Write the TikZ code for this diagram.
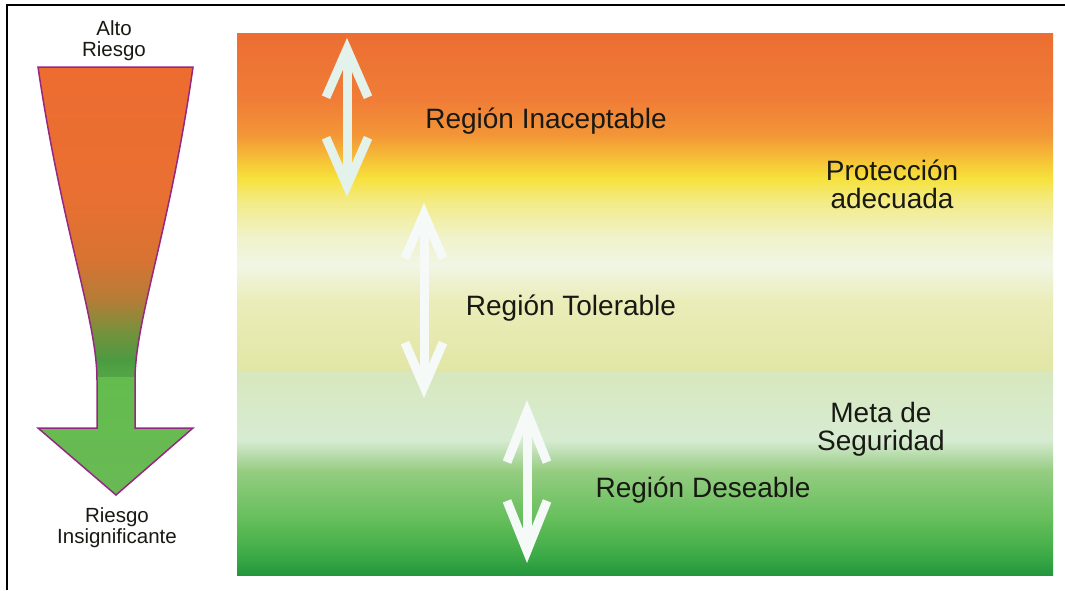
\documentclass[tikz,border=0pt]{standalone}
\usepackage{fontspec}
\setmainfont{Liberation Sans}
\usetikzlibrary{arrows.meta}

% background band colours
\definecolor{bgA}{RGB}{236,110,50}
\definecolor{bgB}{RGB}{240,125,55}
\definecolor{bgC}{RGB}{243,150,55}
\definecolor{bgD}{RGB}{246,195,55}
\definecolor{bgE}{RGB}{247,225,60}
\definecolor{bgF}{RGB}{243,235,130}
\definecolor{bgG}{RGB}{240,242,200}
\definecolor{bgH}{RGB}{240,246,228}
\definecolor{bgI}{RGB}{235,237,185}
\definecolor{bgJ}{RGB}{225,230,165}
\definecolor{bgK}{RGB}{215,232,190}
\definecolor{bgL}{RGB}{215,235,210}
\definecolor{bgM}{RGB}{150,205,130}
\definecolor{bgN}{RGB}{100,190,90}
\definecolor{bgO}{RGB}{60,170,70}
\definecolor{bgP}{RGB}{35,150,60}
% funnel colours
\definecolor{fuA}{RGB}{238,108,48}
\definecolor{fuB}{RGB}{232,112,50}
\definecolor{fuC}{RGB}{215,115,50}
\definecolor{fuD}{RGB}{180,125,55}
\definecolor{fuE}{RGB}{120,145,60}
\definecolor{fuF}{RGB}{75,155,65}
\definecolor{fuG}{RGB}{85,165,72}
\definecolor{fuH}{RGB}{100,188,78}
\definecolor{fuI}{RGB}{105,185,85}
\definecolor{funnelline}{RGB}{150,40,130}
\definecolor{arrowwhite}{RGB}{245,250,248}
\definecolor{arrowmint}{RGB}{228,242,236}
\definecolor{txt}{RGB}{25,25,20}

\newcommand\bgband[4]{\shade[top color=#3,bottom color=#4] (237,#1) rectangle (1053,{#2+0.6});}
\newcommand\fuband[4]{\shade[top color=#3,bottom color=#4] (30,#1) rectangle (200,{#2+0.6});}
\newcommand\funnelpath{(38,67) -- (193,67) .. controls (170,230) and (135,320) .. (135,380) -- (135,428) -- (193,428) -- (116,495) -- (38,428) -- (97,428) -- (97,380) .. controls (97,320) and (62,230) .. (38,67) -- cycle}

\tikzset{
  big/.style={font=\fontsize{28}{28}\selectfont, text=txt, inner sep=0pt, align=center},
  small/.style={font=\fontsize{20.5}{21}\selectfont, text=txt, inner sep=0pt, align=center},
  wharrow/.style args={#1/#2}{line width=9pt, draw=arrowwhite,
     {Straight Barb[length=#1pt,width=#2pt]}-{Straight Barb[length=#1pt,width=#2pt]}},
}

\begin{document}
\begin{tikzpicture}[x=1pt,y=-1pt]
\useasboundingbox (0,0) rectangle (1065,590);
\fill[white] (0,0) rectangle (1065,590);
% frame (top and left)
\draw[line width=2pt] (7,590) -- (7,5) -- (1065,5);

% background gradient
\bgband{33}{100}{bgA}{bgB}
\bgband{100}{135}{bgB}{bgC}
\bgband{135}{160}{bgC}{bgD}
\bgband{160}{178}{bgD}{bgE}
\bgband{178}{200}{bgE}{bgF}
\bgband{200}{235}{bgF}{bgG}
\bgband{235}{265}{bgG}{bgH}
\bgband{265}{300}{bgH}{bgI}
\shade[top color=bgI,bottom color=bgJ] (237,300) rectangle (1053,372);
\bgband{372}{440}{bgK}{bgL}
\bgband{440}{470}{bgL}{bgM}
\bgband{470}{520}{bgM}{bgN}
\bgband{520}{555}{bgN}{bgO}
\shade[top color=bgO,bottom color=bgP] (237,555) rectangle (1053,575);

% funnel arrow
\begin{scope}
  \clip \funnelpath;
  \fuband{60}{200}{fuA}{fuB}
  \fuband{200}{260}{fuB}{fuC}
  \fuband{260}{300}{fuC}{fuD}
  \fuband{300}{330}{fuD}{fuE}
  \fuband{330}{360}{fuE}{fuF}
  \shade[top color=fuF,bottom color=fuG] (30,360) rectangle (200,377);
  \shade[top color=fuH,bottom color=fuI] (30,377) rectangle (200,500);
\end{scope}
\draw[funnelline, line width=1.5pt, line join=miter] \funnelpath;

% double arrows
\coordinate (a1t) at (347,38);
\coordinate (a1b) at (347,197);
\coordinate (a2t) at (424,203);
\coordinate (a2b) at (424,398);
\coordinate (a3t) at (527,400);
\coordinate (a3b) at (527,563);
\draw[wharrow=48/42, draw=arrowmint] (a1t) -- (a1b);
\draw[wharrow=44/38] (a2t) -- (a2b);
\draw[wharrow=50/40] (a3t) -- (a3b);

% labels (anchor base = baseline of last line)
\node[small, anchor=base] (alto) at (114,56) {Alto\\Riesgo};
\node[small, anchor=base] (insig) at (117,543) {Riesgo\\Insignificante};
\node[big, anchor=base] (inac) at (546,128) {Región Inaceptable};
\node[big, anchor=base] (prot) at (892,208) {Protección\\adecuada};
\node[big, anchor=base] (toler) at (571,315) {Región Tolerable};
\node[big, anchor=base] (meta) at (881,450) {Meta de\\Seguridad};
\node[big, anchor=base] (desea) at (703,497) {Región Deseable};
\end{tikzpicture}
\end{document}
